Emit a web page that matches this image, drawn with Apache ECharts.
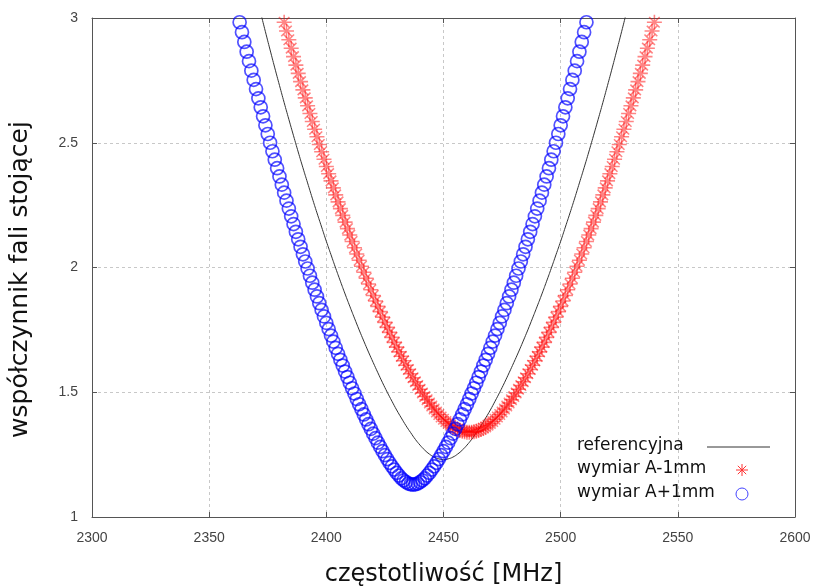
<!DOCTYPE html>
<html><head><meta charset="utf-8">
<script src="https://cdn.jsdelivr.net/npm/echarts@6/dist/echarts.min.js"></script>
<style>html,body{margin:0;padding:0;background:#fff}#c{width:814px;height:588px}</style>
</head><body><div id="c"></div>
<script>
// Sweep grids (MHz)
const refStart = 2370, refStep = 2;
const minusStart = 2381, minusStep = 1;
const plusStart = 2362, plusStep = 1;

// referencyjna (black line), VSWR
const refVSWR = [
3.096,3.020,2.945,2.872,2.800,2.730,2.661,2.594,2.528,2.463,
2.400,2.339,2.278,2.219,2.162,2.105,2.051,1.997,1.945,1.894,
1.845,1.797,1.750,1.705,1.661,1.619,1.578,1.538,1.500,1.464,
1.429,1.397,1.366,1.338,1.311,1.288,1.268,1.252,1.240,1.233,
1.230,
1.233,1.240,1.252,1.268,1.288,1.311,1.338,1.366,1.397,1.429,
1.464,1.500,1.538,1.578,1.619,1.661,1.705,1.750,1.797,1.845,
1.894,1.945,1.997,2.051,2.105,2.162,2.219,2.278,2.339,2.400,
2.463,2.528,2.594,2.661,2.730,2.800,2.872,2.945,3.020,3.096
];

// wymiar A-1mm (red asterisks), VSWR
const minusVSWR = [
3.018,2.983,2.948,2.913,2.879,2.845,2.811,2.778,2.745,2.712,
2.680,2.648,2.617,2.585,2.554,2.524,2.493,2.464,2.434,2.405,
2.376,2.347,2.319,2.291,2.263,2.236,2.209,2.182,2.156,2.130,
2.104,2.079,2.054,2.029,2.005,1.981,1.957,1.934,1.911,1.888,
1.866,1.844,1.823,1.801,1.780,1.760,1.740,1.720,1.700,1.681,
1.662,1.644,1.626,1.608,1.591,1.574,1.558,1.542,1.527,1.512,
1.497,1.483,1.470,1.457,1.445,1.433,1.421,1.411,1.401,1.392,
1.383,1.375,1.368,1.361,1.356,1.351,1.347,1.344,1.342,1.340,
1.340,
1.340,1.342,1.344,1.347,1.351,1.356,1.361,1.368,1.375,1.383,
1.392,1.401,1.411,1.421,1.433,1.445,1.457,1.470,1.483,1.497,
1.512,1.527,1.542,1.558,1.574,1.591,1.608,1.626,1.644,1.662,
1.681,1.700,1.720,1.740,1.760,1.780,1.801,1.823,1.844,1.866,
1.888,1.911,1.934,1.957,1.981,2.005,2.029,2.054,2.079,2.104,
2.130,2.156,2.182,2.209,2.236,2.263,2.291,2.319,2.347,2.376,
2.405,2.434,2.464,2.493,2.524,2.554,2.585,2.617,2.648,2.680,
2.712,2.745,2.778,2.811,2.845,2.879,2.913,2.948,2.983,3.018
];

// wymiar A+1mm (blue circles), VSWR
const plusVSWR = [
3.022,2.983,2.943,2.904,2.865,2.827,2.789,2.752,2.715,2.678,
2.642,2.606,2.570,2.535,2.500,2.466,2.432,2.398,2.365,2.332,
2.300,2.268,2.236,2.205,2.174,2.143,2.113,2.083,2.053,2.024,
1.996,1.967,1.939,1.911,1.884,1.857,1.830,1.804,1.778,1.753,
1.727,1.703,1.678,1.654,1.630,1.607,1.583,1.561,1.538,1.516,
1.495,1.473,1.452,1.432,1.411,1.391,1.372,1.353,1.334,1.316,
1.298,1.281,1.264,1.248,1.232,1.217,1.203,1.190,1.177,1.166,
1.155,1.147,1.140,1.134,1.131,
1.130,
1.131,1.134,1.140,1.147,1.155,
1.166,1.177,1.190,1.203,1.217,1.232,1.248,1.264,1.281,1.298,
1.316,1.334,1.353,1.372,1.391,1.411,1.432,1.452,1.473,1.495,
1.516,1.538,1.561,1.583,1.607,1.630,1.654,1.678,1.703,1.727,
1.753,1.778,1.804,1.830,1.857,1.884,1.911,1.939,1.967,1.996,
2.024,2.053,2.083,2.113,2.143,2.174,2.205,2.236,2.268,2.300,
2.332,2.365,2.398,2.432,2.466,2.500,2.535,2.570,2.606,2.642,
2.678,2.715,2.752,2.789,2.827,2.865,2.904,2.943,2.983,3.022
];

const seriesNames = ['referencyjna', 'wymiar A-1mm', 'wymiar A+1mm'];
const xTitle = 'częstotliwość [MHz]';
const yTitle = 'współczynnik fali stojącej';

const toPairs = (start, step, vals) => vals.map((v, i) => [start + i * step, v]);

const chart = echarts.init(document.getElementById('c'), null, {renderer: 'canvas'});
const frameColor = '#555';
const labelStyle = {fontFamily: 'Liberation Sans', fontSize: 14, color: '#444'};
const asterisk = 'path://M0,-6L0,6M-6,0L6,0M-4.2,-4.2L4.2,4.2M-4.2,4.2L4.2,-4.2';

chart.setOption({
  animation: false,
  backgroundColor: '#fff',
  grid: {left: 92, right: 19, top: 18, bottom: 71, containLabel: false, outerBoundsMode: 'none'},
  xAxis: [{
    type: 'value', min: 2300, max: 2600, interval: 50,
    name: xTitle, nameLocation: 'middle', nameGap: 46,
    nameTextStyle: {fontFamily: 'DejaVu Sans', fontSize: 24, color: '#111'},
    axisLine: {show: true, lineStyle: {color: frameColor}},
    axisTick: {show: true, inside: true, length: 5, lineStyle: {color: frameColor}},
    axisLabel: Object.assign({margin: 14, formatter: v => String(v)}, labelStyle),
    splitLine: {show: true, lineStyle: {color: '#c8c8c8', type: [3, 3]}}
  }, {
    type: 'value', position: 'top', min: 2300, max: 2600, interval: 50,
    axisLine: {show: true, lineStyle: {color: frameColor}},
    axisTick: {show: true, inside: true, length: 5, lineStyle: {color: frameColor}},
    axisLabel: {show: false}, splitLine: {show: false}
  }],
  yAxis: [{
    type: 'value', min: 1, max: 3, interval: 0.5,
    name: yTitle, nameLocation: 'middle', nameGap: 59, nameRotate: 90,
    nameTextStyle: {fontFamily: 'DejaVu Sans', fontSize: 25, color: '#111', padding: [0, 24, 0, 0]},
    axisLine: {show: true, lineStyle: {color: frameColor}},
    axisTick: {show: true, inside: true, length: 5, lineStyle: {color: frameColor}},
    axisLabel: Object.assign({margin: 14}, labelStyle),
    splitLine: {show: true, lineStyle: {color: '#c8c8c8', type: [3, 3]}}
  }, {
    type: 'value', position: 'right', min: 1, max: 3, interval: 0.5,
    axisLine: {show: true, lineStyle: {color: frameColor}},
    axisTick: {show: true, inside: true, length: 5, lineStyle: {color: frameColor}},
    axisLabel: {show: false}, splitLine: {show: false}
  }],
  series: [{
    name: seriesNames[0], type: 'line', data: toPairs(refStart, refStep, refVSWR),
    smooth: true, showSymbol: false, clip: true, z: 2,
    lineStyle: {color: '#333', width: 1}
  }, {
    name: seriesNames[1], type: 'scatter', data: toPairs(minusStart, minusStep, minusVSWR),
    symbol: asterisk, symbolSize: 15, clip: true, z: 3,
    itemStyle: {color: 'rgba(0,0,0,0)', borderColor: 'rgba(255,0,0,0.6)', borderWidth: 1.6}
  }, {
    name: seriesNames[2], type: 'scatter', data: toPairs(plusStart, plusStep, plusVSWR),
    symbol: 'circle', symbolSize: 13, clip: true, z: 4,
    itemStyle: {color: 'rgba(0,0,0,0)', borderColor: 'rgba(0,0,255,0.85)', borderWidth: 1.7}
  }],
  graphic: [
    {type: 'text', left: 577, top: 437, z: 10, style: {text: seriesNames[0], font: '17px "DejaVu Sans"', fill: '#111'}},
    {type: 'text', left: 577, top: 460, z: 10, style: {text: seriesNames[1], font: '17px "DejaVu Sans"', fill: '#111'}},
    {type: 'text', left: 577, top: 484, z: 10, style: {text: seriesNames[2], font: '17px "DejaVu Sans"', fill: '#111'}},
    {type: 'line', z: 10, shape: {x1: 707, y1: 447, x2: 770, y2: 447}, style: {stroke: '#333', lineWidth: 1}},
    {type: 'group', x: 742, y: 470, z: 10, children: [
      {type: 'line', shape: {x1: -6, y1: 0, x2: 6, y2: 0}, style: {stroke: '#f33', lineWidth: 1}},
      {type: 'line', shape: {x1: 0, y1: -6, x2: 0, y2: 6}, style: {stroke: '#f33', lineWidth: 1}},
      {type: 'line', shape: {x1: -4.2, y1: -4.2, x2: 4.2, y2: 4.2}, style: {stroke: '#f33', lineWidth: 1}},
      {type: 'line', shape: {x1: -4.2, y1: 4.2, x2: 4.2, y2: -4.2}, style: {stroke: '#f33', lineWidth: 1}}
    ]},
    {type: 'circle', z: 10, shape: {cx: 742, cy: 494, r: 6}, style: {fill: 'none', stroke: '#44f', lineWidth: 1}}
  ]
});
</script></body></html>
